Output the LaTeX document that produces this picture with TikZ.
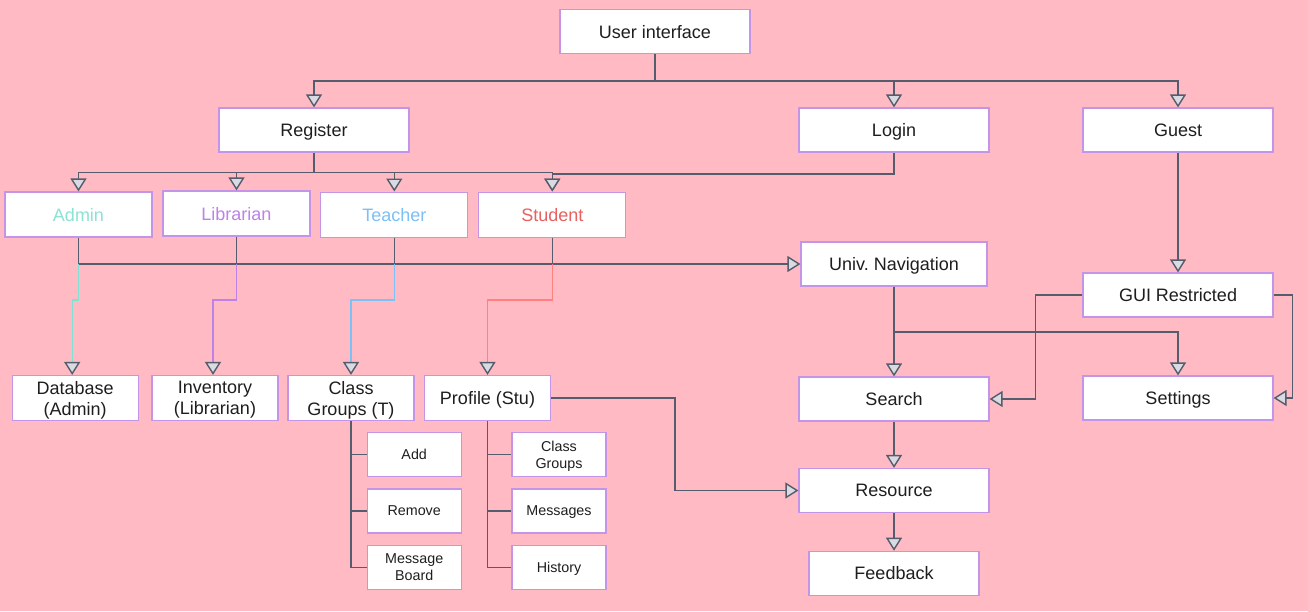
\documentclass[tikz,border=0pt]{standalone}
\usepackage{fontspec}
\setmainfont{Liberation Sans}
\usetikzlibrary{arrows.meta}
\definecolor{bgpink}{RGB}{255,186,196}
\definecolor{boxline}{RGB}{196,148,232}
\definecolor{connc}{RGB}{85,92,108}
\definecolor{tipfill}{RGB}{216,220,226}
\definecolor{admc}{RGB}{140,226,212}
\definecolor{admline}{RGB}{128,226,210}
\definecolor{libc}{RGB}{190,130,230}
\definecolor{teac}{RGB}{125,192,246}
\definecolor{stuc}{RGB}{232,96,96}
\definecolor{stuline}{RGB}{255,128,128}
\definecolor{txtc}{RGB}{30,30,30}
\tikzset{
  box/.style={draw=boxline, fill=white, line width=1.2pt, inner sep=0pt, align=center,
    text=txtc, text depth=0pt, font=\fontsize{18}{21}\selectfont},
  bigbox/.style={box, minimum width=190pt, minimum height=44pt},
  rolebox/.style={box, minimum width=147pt, minimum height=45pt},
  midbox/.style={box, minimum width=126pt, minimum height=45pt},
  smallbox/.style={box, minimum width=94pt, minimum height=44pt, font=\fontsize{14.3}{17}\selectfont},
  conn/.style={draw=connc, line width=1.5pt},
  tip/.style={-{Triangle[open, width=16pt, length=13pt, color=connc, fill=tipfill, line width=1.4pt]}},
  colconn/.style={line width=1.2pt},
}
\begin{document}
\begin{tikzpicture}[x=1pt,y=-1pt]
\fill[bgpink] (0,0) rectangle (1308,611);
\useasboundingbox (0,0) rectangle (1308,611);

% nodes
\node[bigbox] (ui) at (655,31.5) {User interface};
\node[bigbox] (reg) at (314,130) {Register};
\node[bigbox] (login) at (894,130) {Login};
\node[bigbox] (guest) at (1178,130) {Guest};

\node[rolebox, text=admc] (admin) at (78.5,214.5) {Admin};
\node[rolebox, text=libc] (lib) at (236.5,213.5) {Librarian};
\node[rolebox, text=teac] (teach) at (394.3,214.6) {Teacher};
\node[rolebox, text=stuc] (stud) at (552.3,214.6) {Student};

\node[bigbox, minimum width=186pt] (nav) at (894,264) {Univ.\ Navigation};
\node[bigbox] (gui) at (1178,295) {GUI Restricted};
\node[bigbox] (search) at (894,399) {Search};
\node[bigbox] (settings) at (1178,398) {Settings};
\node[bigbox] (res) at (894,490.5) {Resource};
\node[bigbox, minimum width=170pt] (feed) at (894,573.3) {Feedback};

\node[midbox] (db) at (75.2,398) {Database\\(Admin)};
\node[midbox] (inv) at (215,398) {Inventory\\(Librarian)};
\node[midbox] (cgt) at (351,398) {Class\\Groups (T)};
\node[midbox] (prof) at (487.5,398) {Profile (Stu)};

\node[smallbox] (add) at (414.2,454.5) {Add};
\node[smallbox] (rem) at (414.2,511) {Remove};
\node[smallbox] (mb) at (414.2,567.5) {Message\\Board};
\node[smallbox] (scg) at (559,454.5) {Class\\Groups};
\node[smallbox] (msg) at (559,511) {Messages};
\node[smallbox] (hist) at (559,567.5) {History};

% top tree
\draw[conn] (ui.south) -- ++(0,27) coordinate (uj);
\draw[conn,tip] (uj) -| (reg.north);
\draw[conn,tip] (uj) -| (login.north);
\draw[conn,tip] (uj) -| (guest.north);

% register to roles
\draw[conn] (reg.south) -- ++(0,20) coordinate (rj);
\draw[conn,tip] (rj) -| (admin.north);
\draw[conn,tip] (rj) -| (lib.north);
\draw[conn,tip] (rj) -| (teach.north);
\draw[conn,tip] (rj) -| (stud.north);
\draw[conn,tip] (login.south) -- ++(0,21.5) -| (stud.north);

% roles to navigation
\draw[conn,tip] (admin.south) |- (nav.west);
\draw[conn] (lib.south) -- (lib.south |- nav.west);
\draw[conn] (teach.south) -- (teach.south |- nav.west);
\draw[conn] (stud.south) -- (stud.south |- nav.west);

% coloured role links
\draw[colconn, admline, tip] (admin.south |- nav.west) -- ++(0,36) -| ([xshift=-3pt]db.north);
\draw[colconn, libc, tip] (lib.south |- nav.west) -- ++(0,36) -| ([xshift=-2pt]inv.north);
\draw[colconn, teac, tip] (teach.south |- nav.west) -- ++(0,36) -| (cgt.north);
\draw[colconn, stuline, tip] (stud.south |- nav.west) -- ++(0,36) -| (prof.north);

% sub trees
\draw[conn] (cgt.south) |- (add.west);
\draw[conn] (cgt.south) |- (rem.west);
\draw[conn] (cgt.south) |- (mb.west);
\draw[conn] (prof.south) |- (scg.west);
\draw[conn] (prof.south) |- (msg.west);
\draw[conn] (prof.south) |- (hist.west);

% profile to resource
\draw[conn,tip] (prof.east) -- ++(124,0) |- (res.west);

% right side
\draw[conn,tip] (guest.south) -- (gui.north);
\draw[conn,tip] (nav.south) -- (search.north);
\draw[conn,tip] (nav.south) ++(0,45.5) -| (settings.north);
\draw[conn,tip] (gui.west) -- ++(-47,0) |- (search.east);
\draw[conn,tip] (gui.east) -- ++(19,0) |- (settings.east);
\draw[conn,tip] (search.south) -- (res.north);
\draw[conn,tip] (res.south) -- (feed.north);
\end{tikzpicture}
\end{document}
